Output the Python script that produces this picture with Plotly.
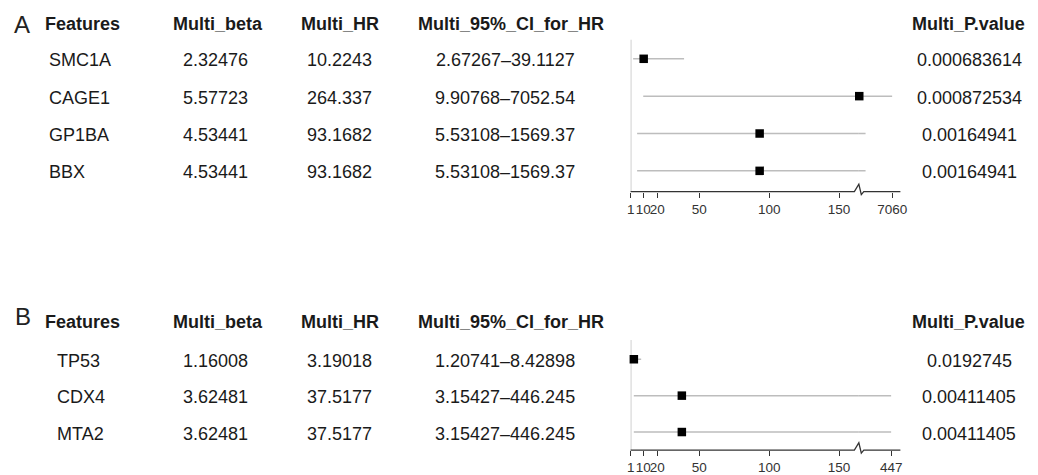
import plotly.graph_objects as go

# ---- Panel A: multivariate Cox results ----
a_features = ["SMC1A", "CAGE1", "GP1BA", "BBX"]
a_beta = [2.32476, 5.57723, 4.53441, 4.53441]
a_hr = [10.2243, 264.337, 93.1682, 93.1682]
a_ci_low = [2.67267, 9.90768, 5.53108, 5.53108]
a_ci_high = [39.1127, 7052.54, 1569.37, 1569.37]
a_pval = [0.000683614, 0.000872534, 0.00164941, 0.00164941]

# ---- Panel B ----
b_features = ["TP53", "CDX4", "MTA2"]
b_beta = [1.16008, 3.62481, 3.62481]
b_hr = [3.19018, 37.5177, 37.5177]
b_ci_low = [1.20741, 3.15427, 3.15427]
b_ci_high = [8.42898, 446.245, 446.245]
b_pval = [0.0192745, 0.00411405, 0.00411405]

headers = ["Features", "Multi_beta", "Multi_HR", "Multi_95%_CI_for_HR", "Multi_P.value"]
low_ticks = [1, 10, 20, 50, 100, 150]
a_high_ticks = [7060]
b_high_ticks = [447]

W, H = 1038, 475
FONT = "Liberation Sans, Arial, Helvetica, sans-serif"
TEXT_COLOR = "#1a1a1a"
AXIS_COLOR = "#333333"
CI_COLOR = "#bdbdbd"
REF_COLOR = "#cccccc"


def px(p):
    return p / W


def py(p):
    return 1 - p / H


# horizontal layout of the forest area (pixels)
LOW_LEFT, BREAK_X, HIGH_RIGHT = 633.3, 864.0, 906.0
PX_PER_UNIT = 1.413
low_range = [1 - (633.5 - LOW_LEFT) / PX_PER_UNIT,
             1 + (BREAK_X - 633.5) / PX_PER_UNIT]

panels = [
    dict(letter="A", feats=a_features, beta=a_beta, hr=a_hr, lo=a_ci_low, hi=a_ci_high,
         p=a_pval, top=40.0, bottom=193.3, row0=59.3, rowN=172.3, header_y=24.0,
         letter_xy=(18.0, 25.0), feat_left=43.5, high_range=[180, 8760],
         high_ticks=a_high_ticks, xl="x", xh="x2", y="y"),
    dict(letter="B", feats=b_features, beta=b_beta, hr=b_hr, lo=b_ci_low, hi=b_ci_high,
         p=b_pval, top=343.0, bottom=454.0, row0=362.3, rowN=435.7, header_y=325.0,
         letter_xy=(19.0, 319.0), feat_left=51.5, high_range=[170, 525.6],
         high_ticks=b_high_ticks, xl="x3", xh="x4", y="y2"),
]

col_header_x = [39.5, 216.0, 340.0, 512.0, 975.0]
col_value_x = [None, 214.0, 339.0, 506.5, 975.5]

fig = go.Figure()
annotations = []
shapes = []
layout_axes = {}


def axis_name(ref):
    return "xaxis" if ref == "x" else "xaxis" + ref[1:]


def yaxis_name(ref):
    return "yaxis" if ref == "y" else "yaxis" + ref[1:]


for pn in panels:
    n = len(pn["feats"])
    rows = [-k for k in range(n)]
    spacing = (pn["rowN"] - pn["row0"]) / (n - 1)
    y_range = [-(n - 1) - (pn["bottom"] - pn["rowN"]) / spacing,
               (pn["row0"] - pn["top"]) / spacing]
    y_domain = [py(pn["bottom"]), py(pn["top"])]

    # confidence intervals, drawn on both halves of the broken axis
    ci_x, ci_y = [], []
    for lo, hi, r in zip(pn["lo"], pn["hi"], rows):
        ci_x += [lo, hi, None]
        ci_y += [r, r, None]
    for xr in (pn["xl"], pn["xh"]):
        fig.add_trace(go.Scatter(x=ci_x, y=ci_y, mode="lines", xaxis=xr, yaxis=pn["y"],
                                 line=dict(color=CI_COLOR, width=1.5),
                                 hoverinfo="skip", showlegend=False))

    # hazard-ratio squares, each on the half of the axis that holds it
    low_max = low_range[1]
    for xr, keep in ((pn["xl"], lambda v: v <= low_max), (pn["xh"], lambda v: v > low_max)):
        xs = [v for v in pn["hr"] if keep(v)]
        ys = [r for v, r in zip(pn["hr"], rows) if keep(v)]
        fig.add_trace(go.Scatter(x=xs, y=ys, mode="markers", xaxis=xr, yaxis=pn["y"],
                                 marker=dict(symbol="square", size=8.5, color="black"),
                                 cliponaxis=False, showlegend=False))

    # axes
    tick_style = dict(tickangle=0, ticks="outside", ticklen=5, tickwidth=1.2,
                      tickcolor=AXIS_COLOR, showline=False, showgrid=False, zeroline=False,
                      tickfont=dict(size=13.5, color=AXIS_COLOR, family=FONT))
    layout_axes[axis_name(pn["xl"])] = dict(
        domain=[px(LOW_LEFT), px(BREAK_X)], range=low_range, anchor=pn["y"],
        tickvals=low_ticks, **tick_style)
    layout_axes[axis_name(pn["xh"])] = dict(
        domain=[px(BREAK_X), px(HIGH_RIGHT)], range=pn["high_range"], anchor=pn["y"],
        tickvals=pn["high_ticks"], **tick_style)
    layout_axes[yaxis_name(pn["y"])] = dict(
        domain=y_domain, range=y_range, anchor=pn["xl"], visible=False, fixedrange=True)

    # reference line at HR = 1
    shapes.append(dict(type="line", xref=pn["xl"], yref=pn["y"] + " domain",
                       x0=1, x1=1, y0=0, y1=1, line=dict(color=REF_COLOR, width=1.5),
                       layer="below"))

    # axis baseline with a break mark
    ay = pn["bottom"]
    pts = [(LOW_LEFT, ay), (BREAK_X - 4.5, ay), (BREAK_X, ay - 7.5),
           (BREAK_X + 2.5, ay + 3), (BREAK_X + 5, ay), (HIGH_RIGHT, ay)]
    path = "M " + " L ".join(f"{px(x):.5f},{py(y):.5f}" for x, y in pts)
    shapes.append(dict(type="path", xref="paper", yref="paper", path=path,
                       line=dict(color=AXIS_COLOR, width=1.3)))

    # panel letter
    lx, ly = pn["letter_xy"]
    annotations.append(dict(text=pn["letter"], xref="paper", yref="paper", x=px(lx), y=py(ly),
                            xanchor="center", yanchor="middle", showarrow=False,
                            font=dict(size=24, color="#222222", family=FONT)))

    # column headers
    for i, (h, hx) in enumerate(zip(headers, col_header_x)):
        annotations.append(dict(text=f"<b>{h}</b>", xref="paper", yref="paper",
                                x=px(hx), y=py(pn["header_y"]),
                                xanchor="left" if i == 0 else "center", yanchor="middle",
                                showarrow=False,
                                font=dict(size=18, color=TEXT_COLOR, family=FONT)))

    # table body
    for k in range(n):
        cells = [pn["feats"][k], str(pn["beta"][k]), str(pn["hr"][k]),
                 f"{pn['lo'][k]}\u2013{pn['hi'][k]}", str(pn["p"][k])]
        for i, c in enumerate(cells):
            cx = pn["feat_left"] if i == 0 else col_value_x[i]
            annotations.append(dict(text=c, xref="paper", yref=pn["y"], x=px(cx), y=rows[k],
                                    xanchor="left" if i == 0 else "center", yanchor="middle",
                                    yshift=-1.5, showarrow=False,
                                    font=dict(size=18, color=TEXT_COLOR, family=FONT)))

fig.update_layout(
    width=W, height=H,
    margin=dict(l=0, r=0, t=0, b=0),
    paper_bgcolor="white", plot_bgcolor="white",
    showlegend=False,
    annotations=annotations,
    shapes=shapes,
    font=dict(family=FONT),
    **layout_axes,
)

fig.write_html("out.html")
